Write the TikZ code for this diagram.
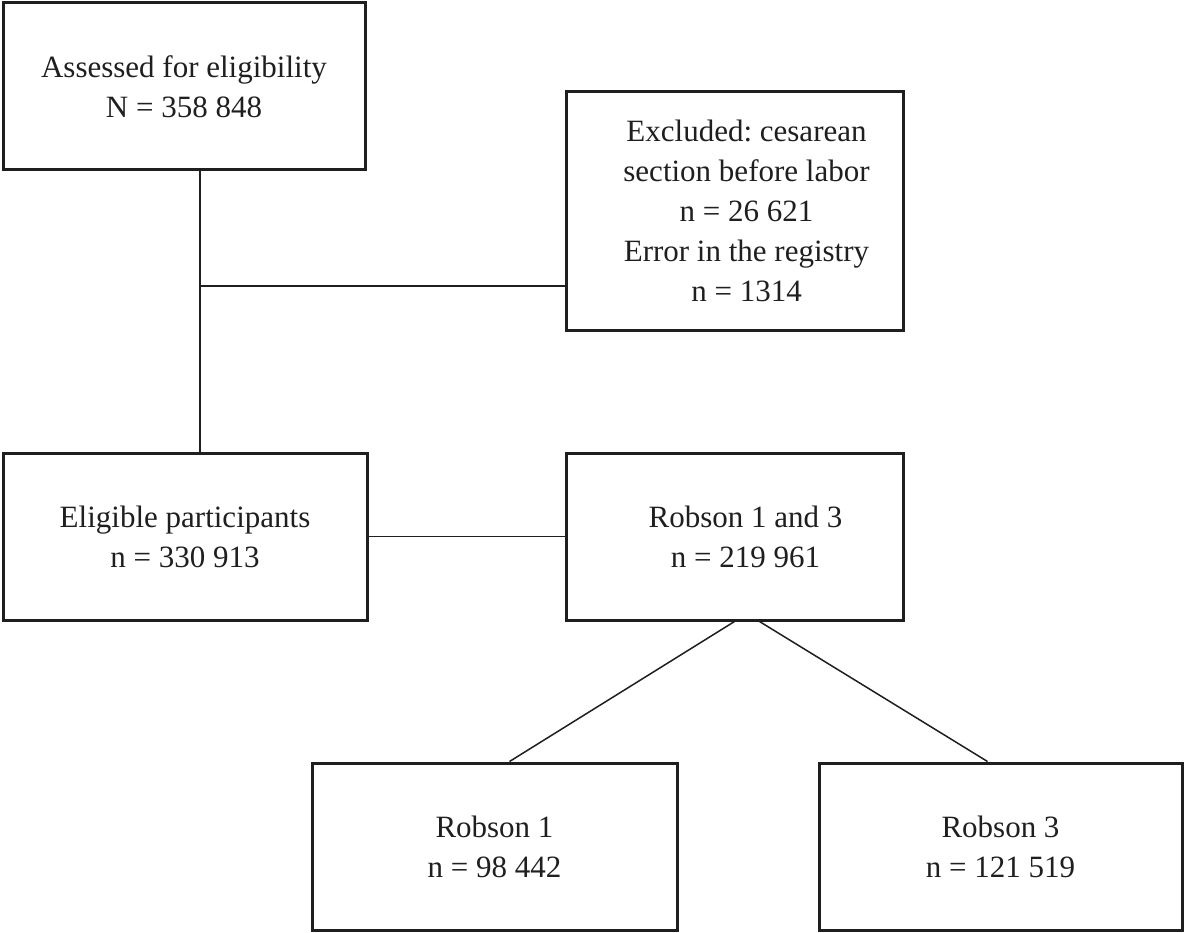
\documentclass[tikz,border=0pt]{standalone}
\usepackage{fontspec}
\setmainfont{Liberation Serif}
\frenchspacing
\begin{document}
\begin{tikzpicture}[x=1pt,y=-1pt,
  txt/.style={align=center, inner sep=0pt,
    font=\fontsize{31}{40}\selectfont\frenchspacing, text=black!88},
  box/.style={txt, draw=black!88, line width=3pt},
  link/.style={draw=black!88, line width=1.5pt}]
\useasboundingbox (0,0) rectangle (1185,933);
\node[box, minimum width=362pt, minimum height=167pt] (assess) at (184,86.5)
  {Assessed for eligibility\\N = 358 848};
\node[box, minimum width=337pt, minimum height=238pt] (excl) at (734.5,211) {};
\node[txt] (excltxt) at ([xshift=12pt]excl.center)
  {Excluded: cesarean\\section before labor\\n = 26 621\\Error in the registry\\n = 1314};
\node[box, minimum width=364pt, minimum height=167pt] (elig) at (185,536.5)
  {Eligible participants\\n = 330 913};
\node[box, minimum width=337pt, minimum height=167pt] (rob13) at (734.5,536.5) {};
\node[txt] (rob13txt) at ([xshift=11pt]rob13.center)
  {Robson 1 and 3\\n = 219 961};
\node[box, minimum width=365pt, minimum height=167pt] (rob1) at (494.5,846.5)
  {Robson 1\\n = 98 442};
\node[box, minimum width=363pt, minimum height=167pt] (rob3) at (1000.5,846.5)
  {Robson 3\\n = 121 519};
\coordinate (vx) at (200,286);
\draw[link] (assess.south -| vx) -- (elig.north -| vx);
\draw[link] (vx) -- (excl.west |- vx);
\draw[link] (elig.east) -- (rob13.west);
\draw[link] (rob13.south) -- ([xshift=15pt]rob1.north);
\draw[link] ([xshift=25pt]rob13.south) -- ([xshift=-13pt]rob3.north);
\end{tikzpicture}
\end{document}
